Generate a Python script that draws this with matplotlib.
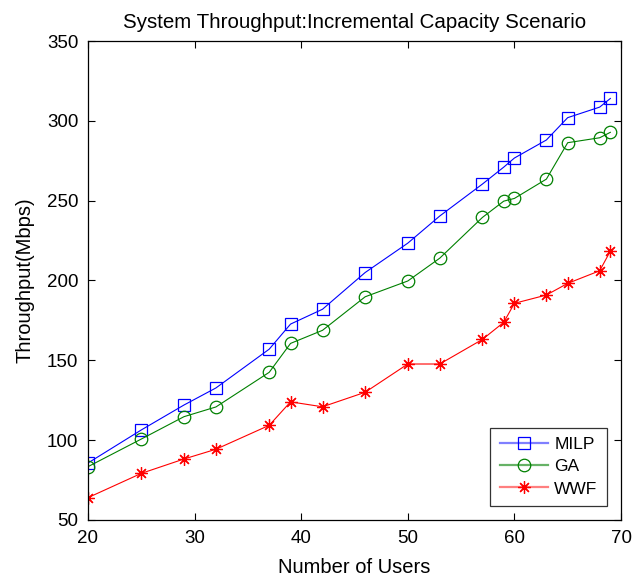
import numpy as np
import matplotlib
matplotlib.use('Agg')
import matplotlib.pyplot as plt

plt.rcParams['font.family'] = ['Liberation Sans', 'DejaVu Sans']

users = [20, 25, 29, 32, 37, 39, 42, 46, 50, 53, 57, 59, 60, 63, 65, 68, 69]
milp = [85.7, 106.4, 122, 132.7, 157, 172.7, 182, 205, 223.4, 240.4, 260.4, 271, 276.7, 288, 302, 308.6, 314]
ga = [83.4, 100.7, 114.7, 120.8, 142.5, 160.6, 168.8, 189.8, 199.7, 214, 239.5, 249.7, 251.4, 263.5, 286.3, 289.4, 292.8]
wwf = [64, 79.2, 88.2, 94.3, 109.3, 124, 120.9, 130, 147.7, 147.7, 163.1, 173.8, 185.7, 190.9, 198.2, 206.1, 218.4]

colors = ['#0000ff', '#008000', '#ff0000']
light = ['#7f7fff', '#66b266', '#ff7f7f']

fig = plt.figure(figsize=(6.44, 5.77), dpi=100)
ax = fig.add_axes([88/644, 1-520/577, (621-88)/644, (520-41)/577])

asterisk = (8, 2, 0)
ax.plot(users, milp, color=colors[0], lw=0.8, marker='s', ms=8, mfc='none', mew=0.9, label='MILP')
ax.plot(users, ga, color=colors[1], lw=0.8, marker='o', ms=9, mfc='none', mew=0.9, label='GA')
ax.plot(users, wwf, color=colors[2], lw=0.8, marker=asterisk, ms=9, mew=0.9, label='WWF')

ax.set_xlim(20, 70)
ax.set_ylim(50, 350)
ax.set_xticks([20, 30, 40, 50, 60, 70])
ax.set_yticks([50, 100, 150, 200, 250, 300, 350])
ax.tick_params(direction='in', top=True, right=True, labelsize=13.5, length=5, width=0.8, pad=7)
for s in ax.spines.values():
    s.set_linewidth(0.9)

ax.set_title('System Throughput:Incremental Capacity Scenario', fontsize=14.8, pad=9)
ax.set_xlabel('Number of Users', fontsize=14.5, labelpad=8)
ax.set_ylabel('Throughput(Mbps)', fontsize=14.5, labelpad=9)

leg = ax.legend(loc='lower right', fontsize=12.5, fancybox=False, edgecolor='black',
                handlelength=2.8, borderaxespad=0.8, labelspacing=0.4, borderpad=0.55,
                handletextpad=0.35)
leg.get_frame().set_linewidth(0.9)
for ln, c, lc in zip(leg.get_lines(), colors, light):
    ln.set_color(lc)
    ln.set_linewidth(1.6)
    ln.set_markeredgecolor(c)

fig.savefig('out.png', dpi=100)
